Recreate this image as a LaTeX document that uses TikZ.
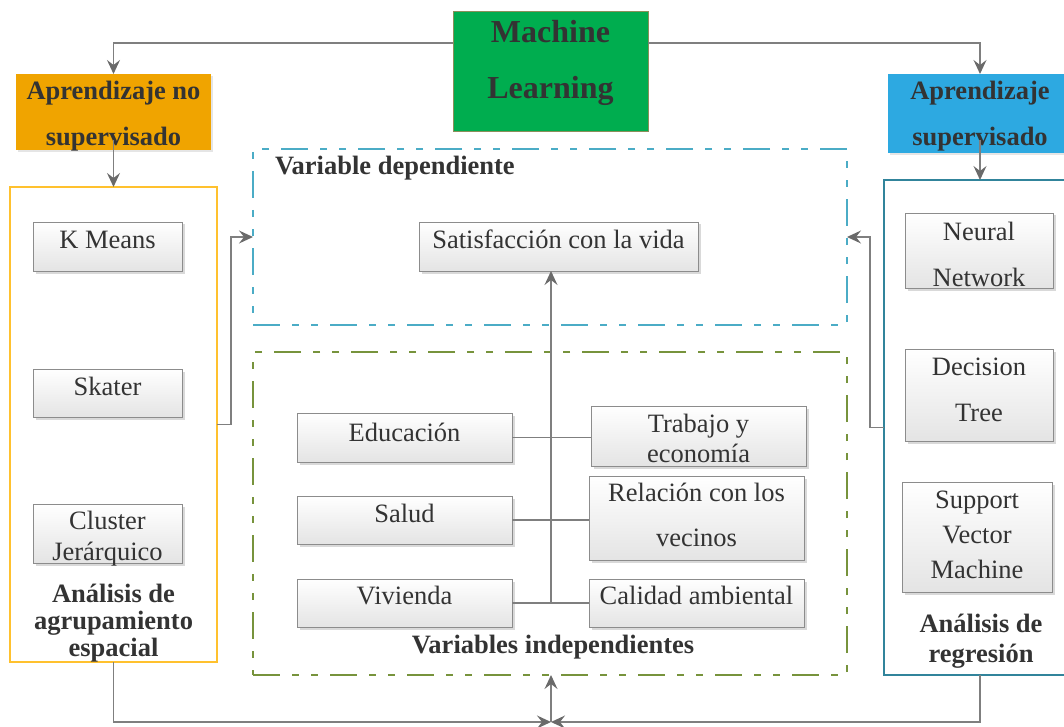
\documentclass[tikz,border=0pt]{standalone}
\usepackage{fontspec}
\setmainfont{Liberation Serif}
\usetikzlibrary{arrows.meta,shadows}
\definecolor{txtc}{HTML}{333333}
\definecolor{mlgreen}{HTML}{00AD4F}
\definecolor{mlborder}{HTML}{8A8F5A}
\definecolor{orangec}{HTML}{F0A400}
\definecolor{bluec}{HTML}{2DA9E1}
\definecolor{yellowc}{HTML}{FFC12E}
\definecolor{tealc}{HTML}{31849B}
\definecolor{dashblue}{HTML}{4BACC6}
\definecolor{dashgreen}{HTML}{77933C}
\definecolor{connc}{HTML}{7F7F7F}
\definecolor{arrc}{HTML}{6A6A6A}
\definecolor{boxline}{HTML}{8C8C8C}
\definecolor{boxbot}{HTML}{E4E4E4}
\begin{document}
\begin{tikzpicture}[x=1pt,y=-1pt,
  every node/.style={inner sep=0pt, outer sep=0pt},
  rbox/.style={rectangle, draw=boxline, line width=0.9pt, top color=white, bottom color=boxbot,
    drop shadow={shadow xshift=2.5pt, shadow yshift=-2.5pt, fill=black!15, opacity=1}},
  hbox/.style={rectangle, drop shadow={shadow xshift=1.5pt, shadow yshift=-2pt, fill=black!10, opacity=1}},
  txt/.style={text=txtc, align=center, anchor=base, font=\fontsize{26.5}{#1}\selectfont},
  txt/.default=30,
  btxt/.style={text=txtc, align=center, anchor=base, font=\bfseries\fontsize{26.5}{#1}\selectfont},
  btxt/.default=30,
  mltxt/.style={text=txtc, align=center, anchor=base, font=\bfseries\fontsize{32}{56}\selectfont},
  conn/.style={draw=connc, line width=1.3pt},
  arr/.style={conn, -{Stealth[length=14pt, width=13pt, inset=5pt, color=arrc, fill=arrc]}},
  dashfr/.style={draw=#1, line width=2pt, dash pattern=on 27pt off 12pt on 7pt off 12pt on 7pt off 12pt},
]
\useasboundingbox (0,0) rectangle (1064,727);
\clip (0,0) rectangle (1064,727);

% frames
\node[draw=yellowc, line width=2.5pt, minimum width=207, minimum height=475] (ag) at (113.5,424.5) {};
\node[draw=tealc, line width=2pt, minimum width=192, minimum height=495] (rg) at (980,427.5) {};
\node[dashfr=dashblue, minimum width=594, minimum height=176] (vd) at (550,237) {};
\node[dashfr=dashgreen, minimum width=594, minimum height=323] (vi) at (550,513.5) {};

% top (text anchors: baseline of the last line)
\node[fill=mlgreen, draw=mlborder, line width=1pt, minimum width=195, minimum height=120] (ml) at (550.5,72) {};
\node[mltxt] (mlt) at (550.5,99) {Machine\\Learning};
\node[hbox, fill=orangec, minimum width=195, minimum height=76] (ns) at (113.5,112) {};
\node[btxt=46] (nst) at (113.5,146) {Aprendizaje no\\supervisado};
\node[hbox, fill=bluec, minimum width=184, minimum height=79] (su) at (980,113.5) {};
\node[btxt=46] (sut) at (980,146) {Aprendizaje\\supervisado};

% left boxes
\node[rbox, minimum width=149, minimum height=49] (km) at (107.5,246.5) {};
\node[txt] (kmt) at (107.5,248) {K Means};
\node[rbox, minimum width=149, minimum height=48] (sk) at (107.5,393) {};
\node[txt] (skt) at (107.5,395) {Skater};
\node[rbox, minimum width=149, minimum height=59] (cj) at (107.5,533.5) {};
\node[txt=31] (cjt) at (107.5,560) {Cluster\\Jerárquico};
\node[btxt=27] (agt) at (113.5,656.5) {Análisis de\\agrupamiento\\espacial};

% right boxes
\node[rbox, minimum width=148, minimum height=75] (nn) at (979,250.5) {};
\node[txt=46] (nnt) at (979,286) {Neural\\Network};
\node[rbox, minimum width=148, minimum height=92] (dt) at (979,395) {};
\node[txt=46] (dtt) at (979,421) {Decision\\Tree};
\node[rbox, minimum width=150, minimum height=110] (svm) at (977,537) {};
\node[txt=35] (svmt) at (977,578) {Support\\Vector\\Machine};
\node[btxt=30] (rgt) at (981,662.5) {Análisis de\\regresión};

% dependent variable
\node[btxt, anchor=base west] (vdt) at (275,175) {Variable dependiente};
\node[rbox, minimum width=279, minimum height=49] (sv) at (558.5,246.5) {};
\node[txt] (svt) at (558.5,248) {Satisfacción con la vida};

% independent variables
\node[rbox, minimum width=215, minimum height=49] (ed) at (404.5,437.5) {};
\node[txt] (edt) at (404.5,441) {Educación};
\node[rbox, minimum width=215, minimum height=48] (sa) at (404.5,520) {};
\node[txt] (sat) at (404.5,522.5) {Salud};
\node[rbox, minimum width=215, minimum height=48] (vv) at (404.5,603) {};
\node[txt] (vvt) at (404.5,604) {Vivienda};
\node[rbox, minimum width=215, minimum height=60] (te) at (698.5,436) {};
\node[txt=30] (tet) at (698.5,462) {Trabajo y\\economía};
\node[rbox, minimum width=215, minimum height=84] (rv) at (696.5,518) {};
\node[txt=45] (rvt) at (696.5,546.5) {Relación con los\\vecinos};
\node[rbox, minimum width=215, minimum height=48] (ca) at (696.5,603) {};
\node[txt] (cat) at (696.5,604) {Calidad ambiental};
\node[btxt] (vit) at (553,653) {Variables independientes};

% connectors
\coordinate (hub) at (551,603);
\coordinate (bot) at (551,722);
\draw[arr] ([yshift=-31pt]ml.north west) -| (ns.north);
\draw[arr] ([yshift=-31pt]ml.north east) -| (su.north);
\draw[arr] ([yshift=10pt]ns.south) -- (ag.north);
\draw[arr] ([yshift=13pt]su.south) -- (rg.north);
\draw[arr] (ag.east) -- ++(14,0) |- (vd.west);
\draw[arr] (rg.west) -- ++(-14,0) |- (vd.east);
\draw[conn] (ed.east) -- (ed.east -| te.west);
\draw[conn] (sa.east) -- (sa.east -| rv.west);
\draw[conn] (vv.east) -- (ca.west);
\draw[arr] (hub) -- (hub |- sv.south);
\draw[arr] (ag.south) |- (bot);
\draw[arr] (rg.south) |- (bot);
\draw[arr] (bot) -- (bot |- vi.south);
\end{tikzpicture}
\end{document}
